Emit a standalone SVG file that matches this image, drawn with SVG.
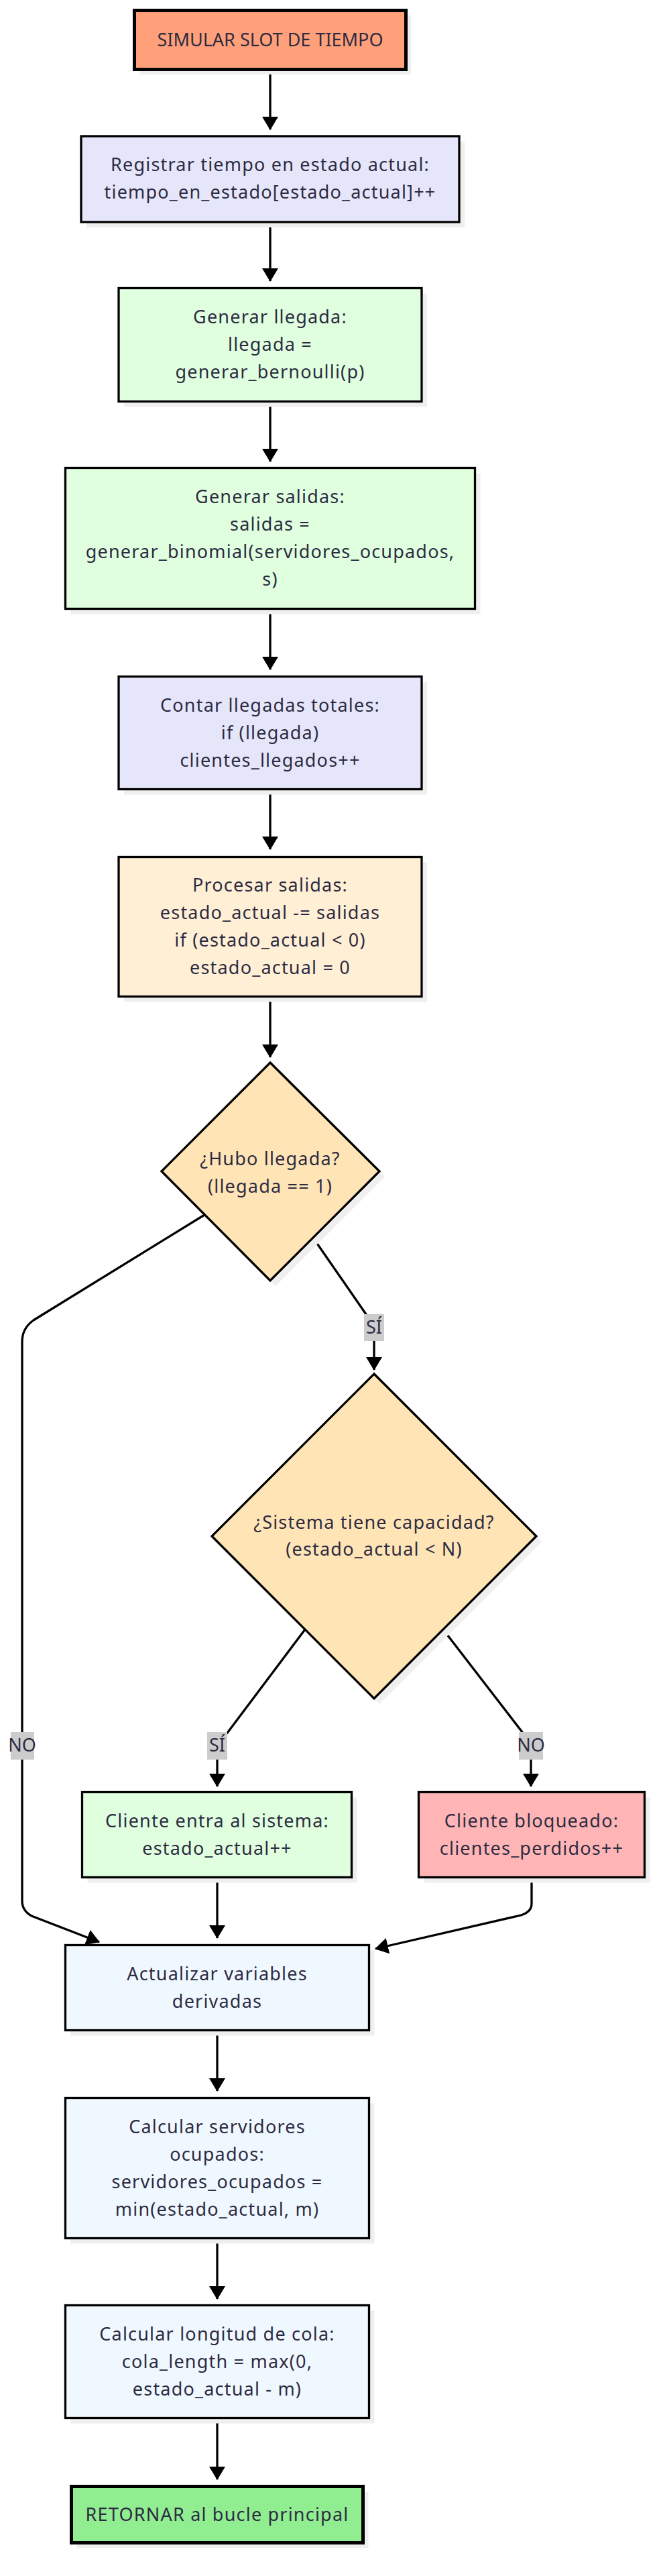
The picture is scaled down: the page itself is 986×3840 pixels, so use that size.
<svg xmlns="http://www.w3.org/2000/svg" width="986" height="3840" viewBox="0 0 986 3840">
<style>
.bg{fill:#ffffff}
.sh{fill:#efefef;stroke:none}
.n{stroke:#000;stroke-width:3.3}
.nt{stroke:#000;stroke-width:5}
text{font-family:"Noto Sans","Open Sans","Liberation Sans",sans-serif;font-size:27px;letter-spacing:1.2px;fill:#2d2b42;text-anchor:middle}
text.caps{letter-spacing:0}
.e{fill:none;stroke:#000;stroke-width:3.3;marker-end:url(#ah)}
.lb{fill:#cccccc}
</style>
<defs>
<marker id="ah" viewBox="0 0 20 24" refX="19" refY="12" markerWidth="20" markerHeight="24" markerUnits="userSpaceOnUse" orient="auto">
<path d="M0,0 L20,12 L0,24 z" fill="#000"/>
</marker>
</defs>
<rect class="bg" x="0" y="0" width="986" height="3840"/>

<g id="connectors">
<path class="e" d="M403,106 V193"/>
<path class="e" d="M403,332 V419"/>
<path class="e" d="M403,600 V688"/>
<path class="e" d="M403,909 V998"/>
<path class="e" d="M403,1178 V1266"/>
<path class="e" d="M403,1487 V1576"/>
<path class="e" d="M467,1845 L548,1962 Q558,1977 558,1995 L558,2042"/>
<path class="e" d="M305,1811 L50,1968 Q33,1980 33,2000 L33,2834 Q33,2848 47,2856 L148,2895"/>
<path class="e" d="M455,2429 L340,2582 Q324,2600 324,2615 L324,2663"/>
<path class="e" d="M661,2429 L779,2582 Q792,2598 792,2615 L792,2663"/>
<path class="e" d="M324,2800 V2889"/>
<path class="e" d="M793,2800 L793,2838 Q793,2850 777,2855 L560,2905"/>
<path class="e" d="M324,3028 V3117"/>
<path class="e" d="M324,3338 V3427"/>
<path class="e" d="M324,3606 V3696"/>
<g id="edge-labels">
<rect class="lb" x="543" y="1959" width="30" height="40"/><text class="caps" x="558" y="1988">SÍ</text>
<rect class="lb" x="309" y="2582" width="30" height="41"/><text class="caps" x="324" y="2611">SÍ</text>
<rect class="lb" x="774" y="2582" width="36" height="41"/><text class="caps" x="792" y="2611">NO</text>
<rect class="lb" x="16" y="2582" width="35" height="41"/><text class="caps" x="33" y="2611">NO</text>
</g>
</g>

<g id="n1">
<rect class="sh" x="208" y="23" width="405" height="88"/>
<rect class="nt" x="200.5" y="15.5" width="405" height="88" fill="#FFA07A"/>
<text class="caps" x="403" y="69">SIMULAR SLOT DE TIEMPO</text>
</g>
<g id="n2">
<rect class="sh" x="129" y="211" width="564" height="128"/>
<rect class="n" x="121" y="203" width="564" height="128" fill="#E6E6FA"/>
<text x="403" y="255">Registrar tiempo en estado actual:</text>
<text x="403" y="296">tiempo_en_estado[estado_actual]++</text>
</g>
<g id="n3">
<rect class="sh" x="185" y="437.5" width="452" height="169"/>
<rect class="n" x="177" y="429.5" width="452" height="169" fill="#DFFFDF"/>
<text x="403" y="482">Generar llegada:</text>
<text x="403" y="523">llegada =</text>
<text x="403" y="564">generar_bernoulli(p)</text>
</g>
<g id="n4">
<rect class="sh" x="105.5" y="705.5" width="611" height="210"/>
<rect class="n" x="97.5" y="697.5" width="611" height="210" fill="#DFFFDF"/>
<text x="403" y="750">Generar salidas:</text>
<text x="403" y="791">salidas =</text>
<text x="403" y="832">generar_binomial(servidores_ocupados,</text>
<text x="403" y="873">s)</text>
</g>
<g id="n5">
<rect class="sh" x="185" y="1016.5" width="452" height="168"/>
<rect class="n" x="177" y="1008.5" width="452" height="168" fill="#E6E6FA"/>
<text x="403" y="1060.5">Contar llegadas totales:</text>
<text x="403" y="1101.5">if (llegada)</text>
<text x="403" y="1142.5">clientes_llegados++</text>
</g>
<g id="n6">
<rect class="sh" x="185" y="1285.5" width="452" height="208"/>
<rect class="n" x="177" y="1277.5" width="452" height="208" fill="#FFEFD5"/>
<text x="403" y="1329">Procesar salidas:</text>
<text x="403" y="1370">estado_actual -= salidas</text>
<text x="403" y="1411">if (estado_actual &lt; 0)</text>
<text x="403" y="1452">estado_actual = 0</text>
</g>
<g id="d1">
<polygon class="sh" points="411,1592 574,1754 411,1917 249,1754"/>
<polygon class="n" points="403,1584 566,1746 403,1909 241,1746" fill="#FFE4B5"/>
<text x="403" y="1737">¿Hubo llegada?</text>
<text x="403" y="1778">(llegada == 1)</text>
</g>
<g id="d2">
<polygon class="sh" points="566,2056 808,2298 566,2540 324,2298"/>
<polygon class="n" points="558,2048 800,2290 558,2532 316,2290" fill="#FFE4B5"/>
<text x="558" y="2279">¿Sistema tiene capacidad?</text>
<text x="558" y="2319">(estado_actual &lt; N)</text>
</g>
<g id="n7">
<rect class="sh" x="130.5" y="2679.5" width="402" height="127"/>
<rect class="n" x="122.5" y="2671.5" width="402" height="127" fill="#DFFFDF"/>
<text x="324" y="2723.5">Cliente entra al sistema:</text>
<text x="324" y="2764.5">estado_actual++</text>
</g>
<g id="n8">
<rect class="sh" x="632.5" y="2679.5" width="337" height="127"/>
<rect class="n" x="624.5" y="2671.5" width="337" height="127" fill="#FFB5B5"/>
<text x="793" y="2723.5">Cliente bloqueado:</text>
<text x="793" y="2764.5">clientes_perdidos++</text>
</g>
<g id="n9">
<rect class="sh" x="105.5" y="2907.5" width="453" height="127"/>
<rect class="n" x="97.5" y="2899.5" width="453" height="127" fill="#F0F8FF"/>
<text x="324" y="2951.5">Actualizar variables</text>
<text x="324" y="2992.5">derivadas</text>
</g>
<g id="n10">
<rect class="sh" x="105.5" y="3135.5" width="453" height="209"/>
<rect class="n" x="97.5" y="3127.5" width="453" height="209" fill="#F0F8FF"/>
<text x="324" y="3179.5">Calcular servidores</text>
<text x="324" y="3220.5">ocupados:</text>
<text x="324" y="3261.5">servidores_ocupados =</text>
<text x="324" y="3302.5">min(estado_actual, m)</text>
</g>
<g id="n11">
<rect class="sh" x="105.5" y="3444.5" width="453" height="168"/>
<rect class="n" x="97.5" y="3436.5" width="453" height="168" fill="#F0F8FF"/>
<text x="324" y="3488.5">Calcular longitud de cola:</text>
<text x="324" y="3529.5">cola_length = max(0,</text>
<text x="324" y="3570.5">estado_actual - m)</text>
</g>
<g id="n12">
<rect class="sh" x="114.5" y="3714.5" width="435" height="84"/>
<rect class="nt" x="106.5" y="3706.5" width="435" height="84" fill="#90EE90"/>
<text x="324" y="3757.5">RETORNAR al bucle principal</text>
</g>
</svg>
